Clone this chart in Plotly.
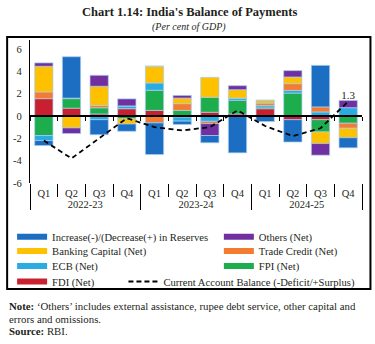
import plotly.graph_objects as go

# ---------------- data ----------------
years = ['2022-23'] * 4 + ['2023-24'] * 4 + ['2024-25'] * 4
quarters = ['Q1', 'Q2', 'Q3', 'Q4'] * 3

fdi      = [1.55, 0.70, 0.18, 0.65, 0.50, -0.10, 0.33, 0.18, 0.65, -0.33, -0.33, 0.02]
fpi      = [-1.75, 0.85, 0.55, -0.25, 1.80, 0.50, 1.34, 1.22, 0.15, 2.05, -1.10, -0.65]
ecb      = [-0.45, 0.05, -0.33, 0.25, 0.65, -0.36, -0.48, 0.20, 0.15, 0.24, 0.36, 0.72]
trade    = [0.60, 0.00, 0.20, 0.00, -0.62, 0.60, -0.20, 0.00, 0.20, 0.60, 0.45, -0.45]
banking  = [2.30, -1.07, 1.73, -0.47, 1.50, 0.50, 1.79, 0.75, 0.25, 0.60, -1.04, -0.85]
others   = [0.30, -0.50, 0.98, 0.63, 0.00, 0.24, -1.07, 0.36, 0.00, 0.57, -1.04, 0.65]
reserves = [-0.45, 3.70, -1.35, -0.65, -2.83, -0.30, -0.65, -3.30, -0.50, -2.00, 3.72, -0.90]
cab      = [-2.2, -3.8, -2.0, -0.2, -1.0, -1.3, -1.0, 0.5, -0.9, -1.8, -1.1, 1.3]

ytick_vals = [-6, -4, -2, 0, 2, 4, 6]
ytick_text = ['-6', '-4', '-2', '0', '2', '4', '6']

# stacking order (from zero outward): FDI, FPI, ECB, Trade Credit, Banking, Others, Reserves
series = [
    ('FDI (Net)', fdi, '#C8202F'),
    ('FPI (Net)', fpi, '#1EAD4C'),
    ('ECB (Net)', ecb, '#2AACE2'),
    ('Trade Credit (Net)', trade, '#F47C30'),
    ('Banking Capital (Net)', banking, '#FFC000'),
    ('Others (Net)', others, '#7030A0'),
    ('Increase(-)/(Decrease(+) in Reserves', reserves, '#1B6EC2'),
]
cab_name = 'Current Account Balance (-Deficit/+Surplus)'

FONT = 'Liberation Serif'
TXT = '#231f20'

# ---------------- geometry helpers (pixel -> paper) ----------------
W, H = 375, 344
L, R, T, B = 28, 13, 40, 161
PW, PH = W - L - R, H - T - B
def px(x):
    return (x - L) / PW
def py(y):
    return (H - B - y) / PH

fig = go.Figure()
xcat = [years, quarters]
for name, vals, col in series:
    fig.add_trace(go.Bar(
        x=xcat, y=vals, name=name, marker=dict(color=col, line=dict(color='rgba(170,205,235,0.9)', width=0.8)),
        width=0.66, showlegend=False, legendgroup=name))

cab_text = [''] * (len(cab) - 1) + ['%.1f' % cab[-1]]
fig.add_trace(go.Scatter(
    x=xcat, y=cab, mode='lines+text', text=cab_text, textposition='top center',
    textfont=dict(family=FONT, size=11, color=TXT),
    line=dict(color='black', width=1.8, dash='5px,3.5px'), showlegend=False, legendgroup='cab'))

# legend entries (one small legend per entry, positioned like the reference grid)
legend_spec = [
    ('Increase(-)/(Decrease(+) in Reserves', '#1B6EC2', 'solid', 16, 236.7),
    ('Others (Net)', '#7030A0', 'solid', 224, 236.7),
    ('Banking Capital (Net)', '#FFC000', 'solid', 16, 251.0),
    ('Trade Credit (Net)', '#F47C30', 'solid', 224, 251.0),
    ('ECB (Net)', '#2AACE2', 'solid', 16, 266.0),
    ('FPI (Net)', '#1EAD4C', 'solid', 224, 266.0),
    ('FDI (Net)', '#C8202F', 'solid', 16, 281.5),
    (cab_name, 'black', 'dash', 128, 281.5),
]
legend_layouts = {}
for i, (name, col, style, sx, sy) in enumerate(legend_spec):
    lid = 'legend' if i == 0 else 'legend%d' % (i + 1)
    if style == 'solid':
        line = dict(color=col, width=6)
    else:
        line = dict(color=col, width=1.8, dash='5px,3px')
    fig.add_trace(go.Scatter(x=[None], y=[None], xaxis='x2', yaxis='y', mode='lines',
                             name=name, line=line, legend=lid, showlegend=True,
                             legendgroup=name if style == 'solid' else 'cab'))
    legend_layouts[lid] = dict(
        x=px(sx - 5 - 1), y=py(sy), xanchor='left', yanchor='middle',
        bgcolor='rgba(0,0,0,0)', borderwidth=0, orientation='h',
        font=dict(family=FONT, size=10.6, color=TXT), itemwidth=30)

n = len(quarters)
fig.update_layout(
    width=W, height=H, autosize=False,
    margin=dict(l=L, r=R, t=T, b=B, pad=0),
    paper_bgcolor='white', plot_bgcolor='white',
    barmode='relative', bargap=0.34,
    font=dict(family=FONT, size=10, color=TXT),
    xaxis=dict(type='multicategory', range=[-0.5, n - 0.5], showline=False, showgrid=False,
               ticks='outside', tickson='boundaries', ticklen=13, tickcolor='black', tickwidth=1,
               showdividers=True, dividercolor='black', dividerwidth=1, ticklabelstandoff=2,
               tickfont=dict(family=FONT, size=10.5, color=TXT), zeroline=False),
    xaxis2=dict(overlaying='x', anchor='free', position=(0 - (-6)) / 12.8,
                range=[-0.5, n - 0.5], tickmode='array', tickvals=[i - 0.5 for i in range(n + 1)],
                ticks='outside', ticklen=4, tickcolor='black', tickwidth=1.2, showticklabels=False,
                showline=True, linecolor='black', linewidth=1.5, showgrid=False, zeroline=False),
    yaxis=dict(range=[-6, 6.8], tickmode='array', tickvals=ytick_vals, ticktext=ytick_text,
               showline=True, linecolor='black', linewidth=1.2, ticks='', showgrid=False,
               zeroline=False, tickfont=dict(family=FONT, size=10.5, color=TXT), ticklabelstandoff=5),
    **legend_layouts,
)

# frame
fig.add_shape(type='rect', xref='paper', yref='paper', x0=px(5), x1=px(370.5), y0=py(289), y1=py(37),
              line=dict(color='black', width=2), fillcolor='rgba(0,0,0,0)', layer='below')

NOTE = 10.8
ann = [
    dict(text="<b>Chart 1.14: India's Balance of Payments</b>", x=px(188), y=py(12), xanchor='center',
         font=dict(family=FONT, size=12.5, color=TXT)),
    dict(text='<i>(Per cent of GDP)</i>', x=px(187.5), y=py(27), xanchor='center',
         font=dict(family=FONT, size=10, color=TXT)),
    dict(text="<b>Note:</b> ‘Others’ includes external assistance, rupee debt service, other capital and",
         x=px(5), y=py(306), xanchor='left', font=dict(family=FONT, size=NOTE, color=TXT)),
    dict(text='errors and omissions.', x=px(5), y=py(318.5), xanchor='left',
         font=dict(family=FONT, size=NOTE, color=TXT)),
    dict(text='<b>Source:</b> RBI.', x=px(5), y=py(331), xanchor='left',
         font=dict(family=FONT, size=NOTE, color=TXT)),
]
for a in ann:
    fig.add_annotation(xref='paper', yref='paper', yanchor='middle', showarrow=False, **a)

fig.write_html('out.html')
